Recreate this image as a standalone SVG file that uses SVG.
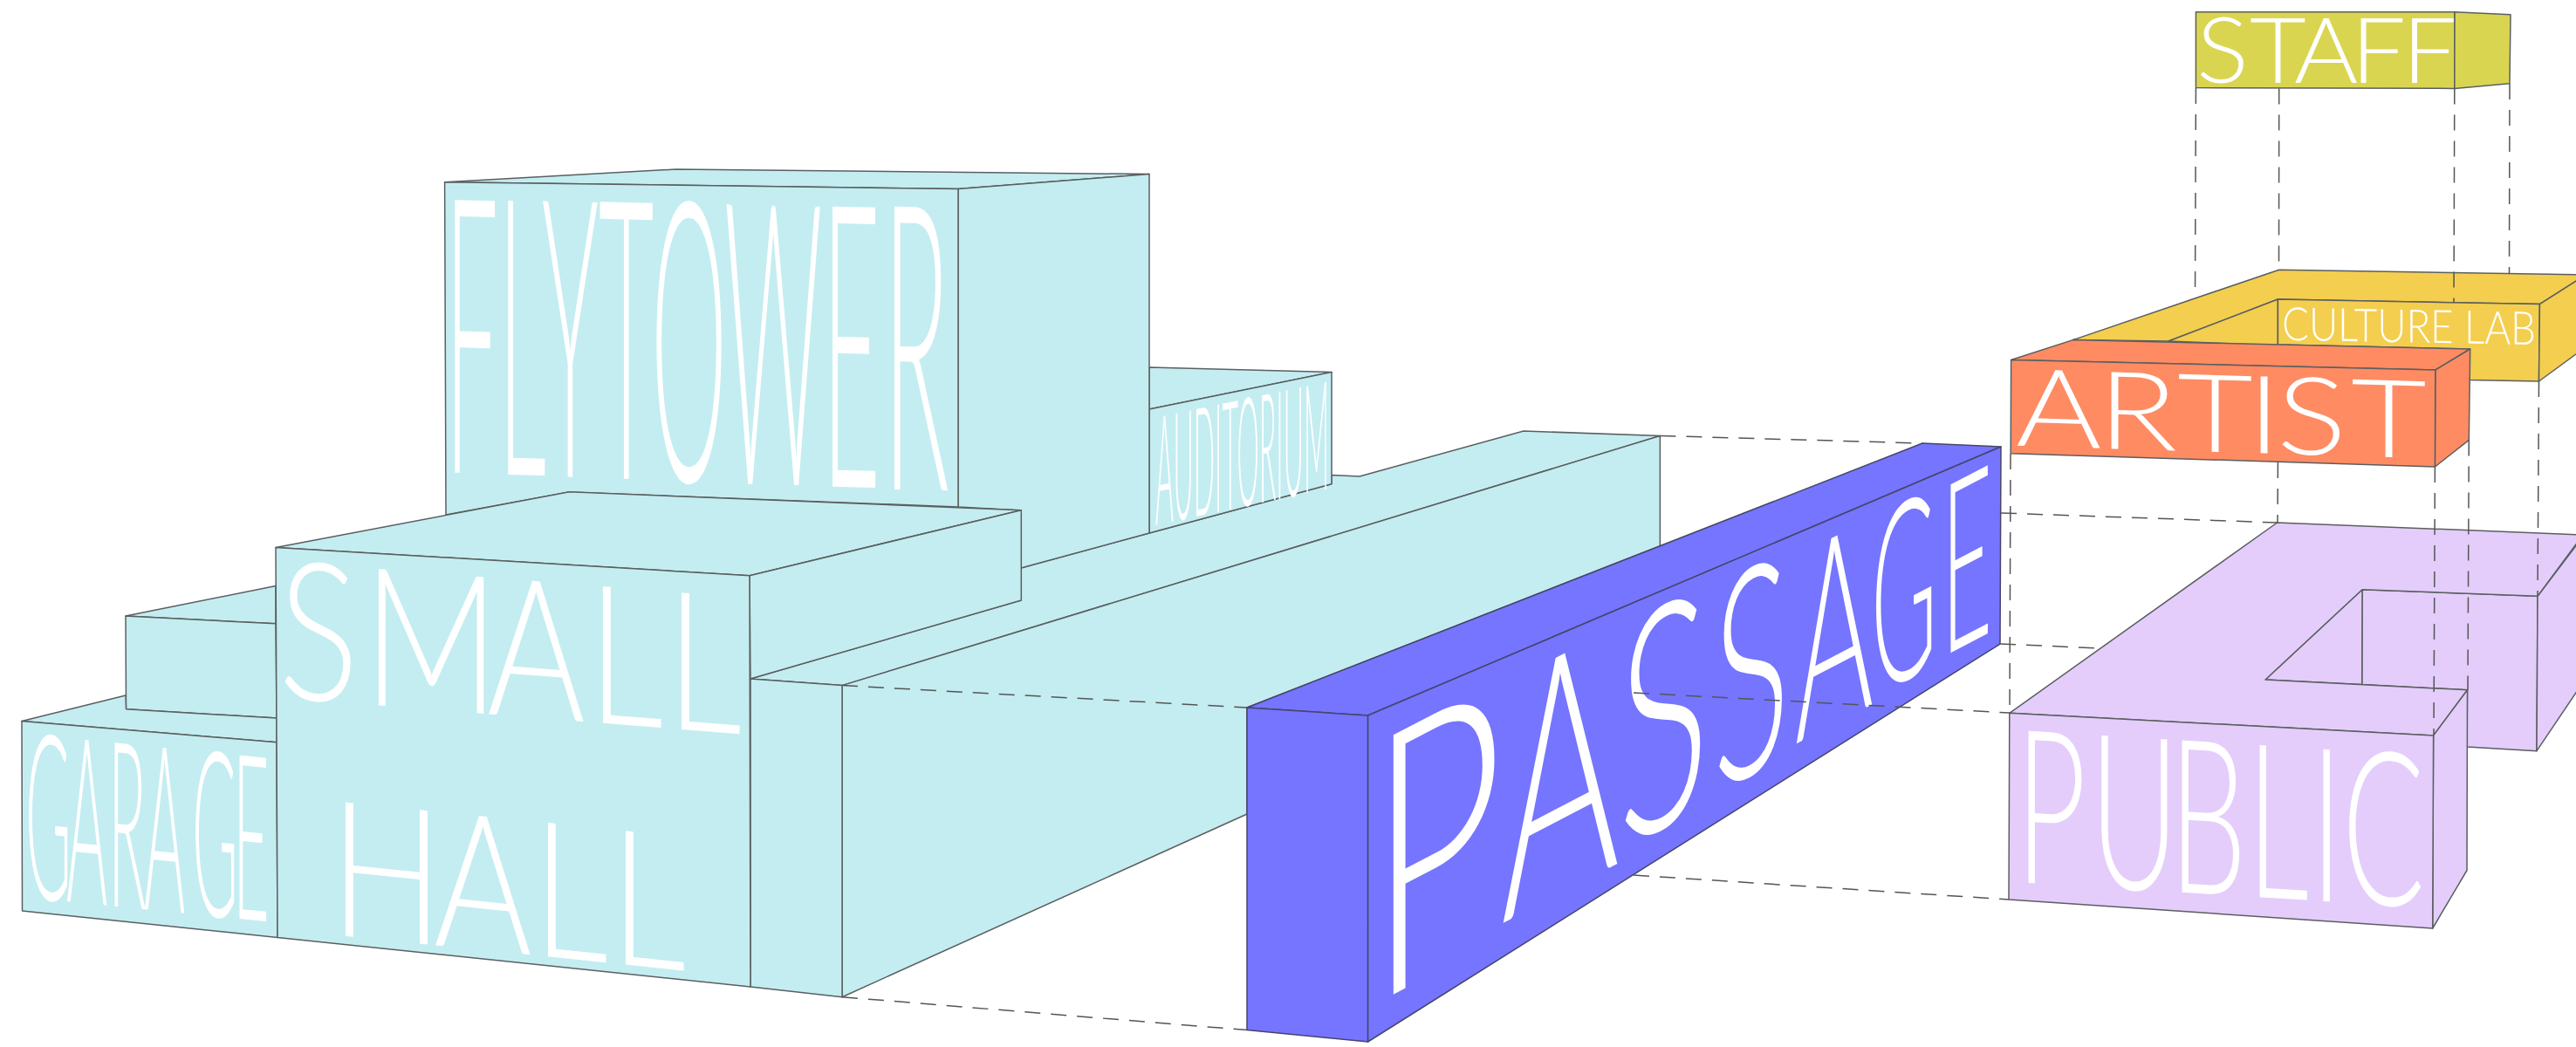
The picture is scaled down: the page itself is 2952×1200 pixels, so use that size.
<svg xmlns="http://www.w3.org/2000/svg" width="2952" height="1200" viewBox="0 0 2952 1200">
<style>
polygon{stroke:#5a5f60;stroke-width:1.5;stroke-linejoin:round}
.c polygon{fill:#c4edf1}
.p polygon{fill:#7575ff;stroke:#45456a}
.s polygon{fill:#dad551}
.y polygon{fill:#f4ce4e}
.a polygon{fill:#ff8b63}
.u polygon{fill:#e4cdfb}
text{font-family:Lato,"Open Sans","Liberation Sans",sans-serif;font-weight:300;fill:#fff}
#connectors line{stroke:#555;stroke-width:1.5;stroke-dasharray:18 12;fill:none}
</style>
<rect width="2952" height="1200" fill="#fff"/>
<g id="long-block" class="c">
<polygon points="1170,651 1317,611 1526,554.6 1526,544.4 1558,546 1746,494 1902.4,499.5 965,785.6 860,778 1170,688"/>
<polygon points="965,785.6 1902.4,499.5 1902.4,626 1429,811 1429,933 965,1142.7"/>
<polygon points="860,778 965,785.6 965,1142.7 860,1131"/>
</g>
<g id="auditorium" class="c">
<polygon points="1317,421 1526,426.5 1317,469"/>
<polygon points="1317,469 1526,426.5 1526,554.6 1317,611"/>
<text transform="matrix(1 -0.21 0 6.2 0 0)" x="1324" y="141.9" font-size="28" textLength="199" lengthAdjust="spacingAndGlyphs">AUDITORIUM</text>
</g>
<g id="flytower" class="c">
<polygon points="509.6,208.7 775,194 1317,199.6 1098,216.5"/>
<polygon points="1098,216.5 1317,199.6 1317,611 1170,651 1170,585 1098,581"/>
<polygon points="509.6,208.7 1098,216.5 1098,581 652,564 511,590"/>
<text transform="matrix(1 0.024 0 4.09 0 0)"><tspan x="510" y="129.4" font-size="108">F</tspan><tspan x="571" y="129.6" font-size="108.5">L</tspan><tspan x="621" y="129.8" font-size="109">Y</tspan><tspan x="686" y="130" font-size="109.5">T</tspan><tspan x="746" y="130.3" font-size="110">O</tspan><tspan x="830" y="130.6" font-size="110.5">W</tspan><tspan x="942" y="130.8" font-size="111" textLength="67" lengthAdjust="spacingAndGlyphs">E</tspan><tspan x="1012" y="131.1" font-size="112" textLength="76" lengthAdjust="spacingAndGlyphs">R</tspan></text>
</g>
<g id="mid-block" class="c">
<polygon points="144,706 316,671.6 316,714.8"/>
<polygon points="144,706 316,714.8 317,823 144.5,812.8"/>
</g>
<g id="garage" class="c">
<polygon points="25,826.6 144,797 144.5,812.8 317,823 317,850.7"/>
<polygon points="25,826.6 317,850.7 318,1074.5 25.5,1044"/>
<text transform="matrix(1 0.1 0 3.68 0 0)" x="29 76 124 165 220 267" y="278.7" font-size="72">GARAGE</text>
</g>
<g id="small-hall" class="c">
<polygon points="316,627.4 652.4,563.7 1170.3,584.7 859,659.7"/>
<polygon points="859,659.7 1170.3,584.7 1170.3,688 860,778"/>
<polygon points="316,627.4 859,659.7 860,1131 318,1074.5"/>
<text transform="matrix(1 0.079 0 1.286 0 0)" x="319 416 558 673 763" y="602" font-size="172">SMALL</text>
<text transform="matrix(1 0.102 0 1.259 0 0)" x="378 497 610 699" y="820" font-size="172">HALL</text>
</g>
<g id="passage" class="p">
<polygon points="1429,811 2203,508 2293,512 1567.6,820"/>
<polygon points="1429,811 1567.6,820 1567.6,1194 1429,1180.6"/>
<polygon points="1567.6,820 2293,512 2292,738 1567.6,1194"/>
<text transform="matrix(1 -0.52 0 2.05 0 0)"><tspan x="1569" y="961" font-size="205" textLength="154" lengthAdjust="spacingAndGlyphs">P</tspan><tspan x="1720" y="953" font-size="188" textLength="136" lengthAdjust="spacingAndGlyphs">A</tspan><tspan x="1854" y="946" font-size="174" textLength="105" lengthAdjust="spacingAndGlyphs">S</tspan><tspan x="1963" y="942" font-size="162" textLength="88" lengthAdjust="spacingAndGlyphs">S</tspan><tspan x="2057" y="938" font-size="148" textLength="90" lengthAdjust="spacingAndGlyphs">A</tspan><tspan x="2144" y="934" font-size="140" textLength="76" lengthAdjust="spacingAndGlyphs">G</tspan><tspan x="2225" y="932" font-size="133" textLength="58" lengthAdjust="spacingAndGlyphs">E</tspan></text>
</g>
<g id="staff" class="s">
<polygon points="2516.4,13.8 2813,13.8 2812.8,101.4 2516.4,100.6"/>
<polygon points="2813,13.8 2877,16.8 2876,95.7 2812.8,101.4"/>
<text transform="matrix(1 0 0 0.9375 0 0)" x="2517 2578 2629 2694 2752.6" y="100.8" font-size="112">STAFF</text>
</g>
<g id="culture-lab" class="y">
<polygon points="2375.4,389.6 2611.7,309.2 2960,315 2960,317 2910.4,348.6 2610.4,343 2485,391"/>
<polygon points="2485,391 2610.4,343 2610.4,396"/>
<polygon points="2610.4,343 2910.4,348.6 2909.5,437 2830,435.5 2830,400 2610.4,395"/>
<polygon points="2910.4,348.6 2960,317 2960,400 2909.5,437"/>
<text transform="matrix(1 0.018 0 1.1 0 0)" x="2615" y="311.5" font-size="48" textLength="291" lengthAdjust="spacingAndGlyphs">CULTURE LAB</text>
</g>
<g id="artist" class="a">
<polygon points="2304.6,412.5 2375.4,389.6 2830.7,400 2790.8,424"/>
<polygon points="2790.8,424 2830.7,400 2829.3,504.4 2790.4,535"/>
<polygon points="2304.6,412.5 2790.8,424 2790.4,535 2304.2,519.7"/>
<text transform="matrix(1 0.03 0 0.828 0 0)" x="2310 2404 2495 2575 2609 2694" y="533.3" font-size="150">ARTIST</text>
</g>
<g id="public" class="u">
<polygon points="2707,675.7 2908,683.3 2907,860.7 2827,856 2827.5,790.8 2706.7,784.6"/>
<polygon points="2596,779 2707,675.7 2706.7,784.6"/>
<polygon points="2908,683.3 2960,615 2960,782 2907,860.7"/>
<polygon points="2302.8,817.3 2609.5,599 2960,613 2908,683.3 2707,675.7 2596,779 2827.5,790.8 2788.6,843"/>
<polygon points="2788.6,843 2827.5,790.8 2827,997.5 2787.7,1064"/>
<polygon points="2302.8,817.3 2788.6,843 2787.7,1064 2302,1031"/>
<text transform="matrix(1 0.062 0 1.759 0 0)" x="2310 2395 2486 2575 2648 2684" y="493.3" font-size="140">PUBLIC</text>
</g>
<g id="connectors">
<line x1="965" y1="785.6" x2="1429" y2="811"/>
<line x1="965" y1="1142.7" x2="1429" y2="1180.6"/>
<line x1="1902.4" y1="499.5" x2="2203" y2="508"/>
<line x1="2293" y1="588" x2="2610" y2="599"/>
<line x1="2292" y1="738" x2="2407" y2="743"/>
<line x1="1872" y1="794" x2="2303" y2="817"/>
<line x1="1872" y1="1003" x2="2302" y2="1031"/>
<line x1="2516.4" y1="101" x2="2515.5" y2="340"/>
<line x1="2611.7" y1="101.5" x2="2611.5" y2="309"/>
<line x1="2812.8" y1="101.5" x2="2812" y2="346"/>
<line x1="2876" y1="96" x2="2875.5" y2="314"/>
<line x1="2304" y1="520" x2="2303" y2="817"/>
<line x1="2610.4" y1="530" x2="2610" y2="599"/>
<line x1="2790.4" y1="535" x2="2789" y2="842"/>
<line x1="2829.3" y1="504.4" x2="2828" y2="791"/>
<line x1="2909.5" y1="437" x2="2908" y2="683"/>
</g>
</svg>
